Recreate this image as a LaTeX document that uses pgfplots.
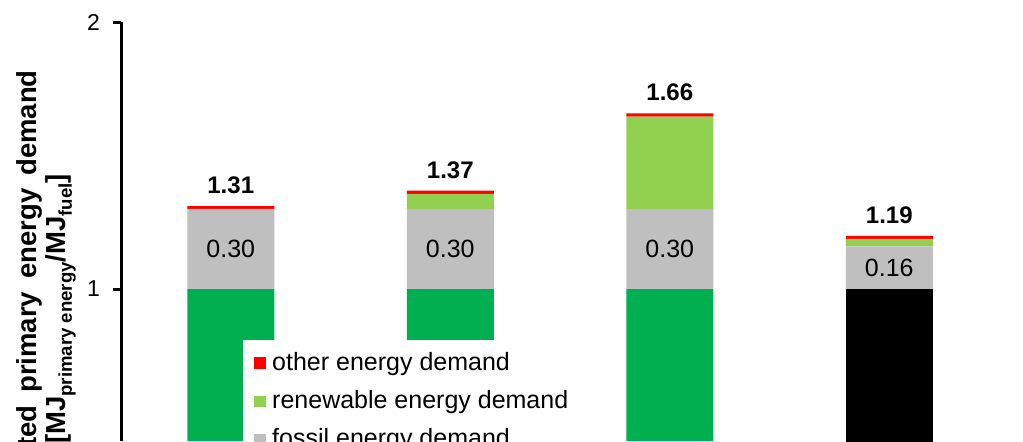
\documentclass[border=0pt]{standalone}
\usepackage{pgfplots}
\usepackage{pgfplotstable}
\pgfplotsset{compat=1.18}
\usepackage{fontspec}
\setmainfont{Liberation Sans}
\definecolor{dgreen}{HTML}{00B050}
\definecolor{lgreen}{HTML}{92D050}
\definecolor{fgrey}{HTML}{BFBFBF}
\definecolor{ored}{HTML}{FF0000}
\newcommand\sub[1]{\raisebox{-0.22em}{\fontsize{9.3}{10}\selectfont #1}}

\pgfplotstableread{
x base black fossil renew other
0 1.00 0.00 0.30 0.000 0.010
1 1.00 0.00 0.30 0.056 0.012
2 1.00 0.00 0.30 0.346 0.012
3 0.00 1.00 0.16 0.028 0.011
}\energy

\pgfplotstableread{
x y lab
0 1.310 1.31
1 1.368 1.37
2 1.658 1.66
3 1.199 1.19
}\totals

\pgfplotstableread{
x y lab
0 1.15 0.30
1 1.15 0.30
2 1.15 0.30
3 1.08 0.16
}\inner

\pgfplotsset{
  common/.style={
    at={(60.5pt,0pt)}, anchor=south west,
    scale only axis, width=450pt, height=209.5pt,
    xmin=-0.5, xmax=3.6, ymin=0.4307, ymax=2,
  }
}

\begin{document}
\begin{tikzpicture}
\begin{axis}[
  common,
  ybar stacked, bar width=43.5pt,
  axis x line=none,
  axis y line*=left,
  y axis line style={line width=1.5pt},
  ytick={1,2}, xtick=\empty,
  tick align=outside, major tick length=4pt,
  ytick style={line width=1.5pt, black},
  yticklabel style={font=\fontsize{11.5}{13}\selectfont, xshift=-3pt},
  /pgf/number format/assume math mode=true,
  legend style={at={(0.1356,0.241)}, anchor=north west, draw=none, fill=white,
    inner xsep=4pt, inner ysep=4pt,
    font=\fontsize{12.5}{14}\selectfont, row sep=4.5pt,
    cells={anchor=west}},
  legend cell align=left,
]
\addlegendimage{legend image code/.code={\path (0pt,0pt) (8pt,0pt);\fill[ored] (1.5pt,-2.6pt) rectangle (7pt,2.6pt);}}
\addlegendimage{legend image code/.code={\path (0pt,0pt) (8pt,0pt);\fill[lgreen] (1.5pt,-2.6pt) rectangle (7pt,2.6pt);}}
\addlegendimage{legend image code/.code={\path (0pt,0pt) (8pt,0pt);\fill[fgrey] (1.5pt,-2.6pt) rectangle (7pt,2.6pt);}}
\legend{other energy demand, renewable energy demand, fossil energy demand}
\addplot[fill=dgreen, draw=none] table[x=x, y=base] {\energy};
\addplot[fill=black, draw=none] table[x=x, y=black] {\energy};
\addplot[fill=fgrey, draw=none] table[x=x, y=fossil] {\energy};
\addplot[fill=lgreen, draw=none] table[x=x, y=renew] {\energy};
\addplot[fill=ored, draw=none] table[x=x, y=other] {\energy};
\end{axis}
\begin{axis}[common, hide axis, clip=false]
\addplot[draw=none, mark=none, nodes near coords, point meta=explicit symbolic,
  nodes near coords style={anchor=south, inner sep=0pt, yshift=6pt,
    font=\bfseries\fontsize{12}{14}\selectfont}]
  table[x=x, y=y, meta=lab] {\totals};
\addplot[draw=none, mark=none, nodes near coords, point meta=explicit symbolic,
  nodes near coords style={anchor=center, inner sep=0pt,
    font=\fontsize{12.5}{14}\selectfont}]
  table[x=x, y=y, meta=lab] {\inner};
\end{axis}
\node[rotate=90, align=center, inner sep=0pt, font=\bfseries\fontsize{13.75}{14.5}\selectfont]
  at (23.2pt,66pt)
  {Cumulated\hspace{6.5pt}primary\hspace{6.5pt}energy\hspace{6.5pt}demand\\\relax[MJ\sub{primary energy}/MJ\sub{fuel}]};
\pgfresetboundingbox
\useasboundingbox (0,0) rectangle (511.5pt,220.5pt);
\end{tikzpicture}
\end{document}
